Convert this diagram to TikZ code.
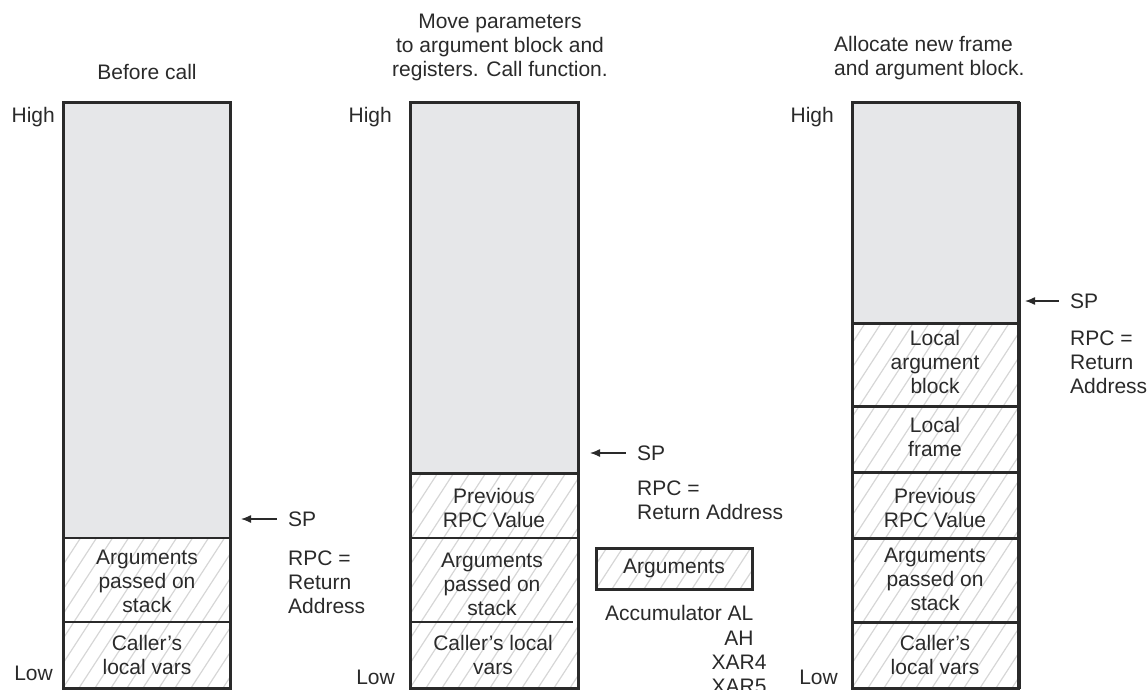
\documentclass[tikz,border=0pt]{standalone}
\usepackage{fontspec}
\setmainfont{Liberation Sans}
\usetikzlibrary{arrows.meta}
\definecolor{ink}{HTML}{2A2A2A}
\definecolor{stackgray}{HTML}{E6E7E9}
\definecolor{hatchgray}{HTML}{D6D6D6}
\tikzset{
  lbl/.style={font=\fontsize{21}{24}\selectfont, text=ink, inner sep=0pt, align=center},
  lbll/.style={lbl, align=left, anchor=west},
  lblr/.style={lbl, anchor=east},
  frame/.style={draw=ink, line width=3pt},
  thindiv/.style={draw=ink, line width=1.5pt},
  middiv/.style={draw=ink, line width=2pt},
  thickdiv/.style={draw=ink, line width=3pt},
  sparrow/.style={draw=ink, line width=1.3pt, {Latex[length=10pt,width=8pt]}-, shorten >=11pt},
  argbox/.style={lbl, draw=ink, line width=3pt, minimum width=156pt, minimum height=41pt},
}
\newcommand{\hatchrect}[4]{%
  \begin{scope}
    \clip (#1,#2) rectangle (#3,#4);
    \foreach \k in {-22,...,12} {\draw[hatchgray, line width=1.2pt] ({#1+16*\k},#4) -- ++(260,-400);}
  \end{scope}}
\begin{document}
\begin{tikzpicture}[x=1pt,y=-1pt]
\useasboundingbox (0,0) rectangle (1148,690);

% ---------------- Column 1 ----------------
\fill[stackgray] (63,103) rectangle (230,538);
\hatchrect{63}{538}{230}{688}
\draw[thindiv] (63,538) -- (230,538);
\draw[thindiv] (63,622) -- (230,622);
\draw[frame] (63,103) rectangle (230,688);
\node[lbl] (t1) at (147,72) {Before call};
\node[lblr] (h1) at (55,117) {High};
\node[lblr] (l1) at (53,673) {Low};
\node[lbl] (a1) at (147,581) {Arguments\\passed on\\stack};
\node[lbl] (c1) at (147,655) {Caller’s\\local vars};
\coordinate (p1) at (241,519);
\node[lbll] (sp1) at (288,519) {SP};
\draw[sparrow] (p1) -- (sp1.west);
\node[lbll] (r1) at (288,582) {RPC =\\Return\\Address};

% ---------------- Column 2 ----------------
\fill[stackgray] (410,103) rectangle (578,473);
\hatchrect{410}{473}{578}{688}
\draw[thickdiv] (410,473) -- (578,473);
\draw[middiv] (410,538) -- (578,538);
\draw[middiv] (410,622) -- (573,622);
\draw[frame] (410,103) rectangle (578,688);
\node[lbl] (t2) at (500,47) {Move parameters\\to argument block and\\registers. Call function.};
\node[lblr] (h2) at (392,117) {High};
\node[lblr] (l2) at (395,677) {Low};
\node[lbl] (pr2) at (494,508) {Previous\\RPC Value};
\node[lbl] (a2) at (492,584) {Arguments\\passed on\\stack};
\node[lbl] (c2) at (493,655) {Caller’s local\\vars};
\coordinate (p2) at (590,453);
\node[lbll] (sp2) at (637,453) {SP};
\draw[sparrow] (p2) -- (sp2.west);
\node[lbll] (r2) at (637,500) {RPC =\\Return Address};
\hatchrect{596}{548}{752}{589}
\node[argbox] (ab) at (674,568.5) {Arguments};
\node[lbll] (acc) at (605,613) {Accumulator AL};
\node[lbl] (ah) at (739,638) {AH};
\node[lbl] (x4) at (739,662) {XAR4};
\node[lbl] (x5) at (739,686) {XAR5};

% ---------------- Column 3 ----------------
\fill[stackgray] (852,103) rectangle (1018,323);
\hatchrect{852}{323}{1018}{688}
\draw[thickdiv] (852,323) -- (1018,323);
\draw[thickdiv] (852,406) -- (1018,406);
\draw[thickdiv] (852,472) -- (1018,472);
\draw[thickdiv] (852,538) -- (1018,538);
\draw[thickdiv] (852,622) -- (1018,622);
\draw[frame] (852,103) rectangle (1018,688);
\draw[draw=ink, line width=2pt] (1020,102) -- (1020,689);
\node[lbll] (t3) at (834,58) {Allocate new frame\\and argument block.};
\node[lblr] (h3) at (834,117) {High};
\node[lblr] (l3) at (838,677) {Low};
\node[lbl] (la3) at (935,362) {Local\\argument\\block};
\node[lbl] (lf3) at (935,437) {Local\\frame};
\node[lbl] (pr3) at (935,508) {Previous\\RPC Value};
\node[lbl] (a3) at (935,579) {Arguments\\passed on\\stack};
\node[lbl] (c3) at (935,655) {Caller’s\\local vars};
\coordinate (p3) at (1025,301);
\node[lbll] (sp3) at (1070,301) {SP};
\draw[sparrow] (p3) -- (sp3.west);
\node[lbll] (r3) at (1070,362) {RPC =\\Return\\Address};
\end{tikzpicture}
\end{document}
